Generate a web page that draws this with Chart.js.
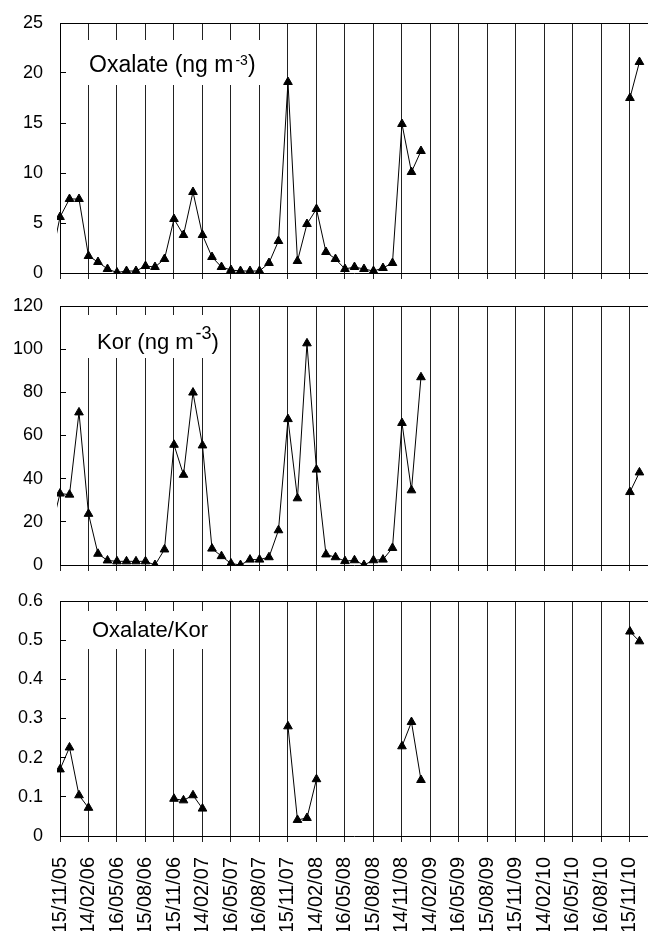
<!DOCTYPE html>
<html>
<head>
<meta charset="utf-8">
<script src="https://cdn.jsdelivr.net/npm/chart.js@4.4.0/dist/chart.umd.min.js"></script>
<style>
  html, body { margin: 0; padding: 0; background: #fff; }
  #wrap { position: relative; width: 648px; height: 931px; overflow: hidden; }
  canvas { position: absolute; left: 0; }
</style>
</head>
<body>
<div id="wrap">
  <canvas id="c1" width="648" height="290" style="top:0"></canvas>
  <canvas id="c2" width="648" height="290" style="top:290px"></canvas>
  <canvas id="c3" width="648" height="351" style="top:580px"></canvas>
</div>
<script>
// quarterly dates on the x axis, one tick every 3 months
const tickLabels = ["15/11/05", "14/02/06", "16/05/06", "15/08/06", "15/11/06", "14/02/07",
    "16/05/07", "16/08/07", "15/11/07", "14/02/08", "16/05/08", "15/08/08", "14/11/08",
    "14/02/09", "16/05/09", "15/08/09", "15/11/09", "14/02/10", "16/05/10", "16/08/10", "15/11/10"];

// monthly samples; the first one (Oct 2005) sits just left of the axis
const firstMonth = -1;

const oxalate = [1.0,
    5.6, 7.4, 7.4, 1.7, 1.1, 0.4, 0.05, 0.2, 0.2, 0.7, 0.6, 1.4,
    5.4, 3.8, 8.1, 3.8, 1.6, 0.6, 0.3, 0.2, 0.2, 0.2, 1.0, 3.2,
    19.1, 1.2, 4.9, 6.4, 2.1, 1.4, 0.4, 0.6, 0.4, 0.2, 0.5, 1.0,
    14.9, 10.1, 12.2, null, null, null, null, null, null, null, null, null,
    null, null, null, null, null, null, null, null, null, null, null, null,
    17.5, 21.1];

const kor = [15,
    33.1, 32.6, 70.7, 23.7, 5.2, 2.1, 1.7, 1.7, 1.7, 1.7, 0, 7.2,
    55.7, 41.8, 79.9, 55.4, 7.6, 4.1, 0.7, 0, 2.5, 2.5, 3.6, 16.1,
    67.6, 30.9, 102.7, 44.2, 4.9, 3.6, 1.8, 2.2, 0, 2.2, 2.5, 7.9,
    65.8, 34.6, 87.0, null, null, null, null, null, null, null, null, null,
    null, null, null, null, null, null, null, null, null, null, null, null,
    33.8, 42.9];

const ratio = [null,
    0.170, 0.226, 0.104, 0.072, null, null, null, null, null, null, null, null,
    0.095, 0.091, 0.104, 0.070, null, null, null, null, null, null, null, null,
    0.280, 0.041, 0.046, 0.145, null, null, null, null, null, null, null, null,
    0.229, 0.291, 0.143, null, null, null, null, null, null, null, null, null,
    null, null, null, null, null, null, null, null, null, null, null, null,
    0.522, 0.497];

const FONT = '"Liberation Sans", Arial, sans-serif';

// top edge of the frame + white text box with the panel name
const panelLabel = {
    id: 'panelLabel',
    beforeDatasetsDraw(chart, args, opts) {
        const ctx = chart.ctx;
        const a = chart.chartArea;
        ctx.save();
        ctx.strokeStyle = '#000';
        ctx.lineWidth = 1;
        ctx.beginPath();
        ctx.moveTo(a.left, Math.round(a.top) + 0.5);
        ctx.lineTo(a.right, Math.round(a.top) + 0.5);
        ctx.stroke();

        ctx.fillStyle = '#fff';
        ctx.fillRect(a.left + opts.box[0], a.top + opts.box[1], opts.box[2], opts.box[3]);

        ctx.fillStyle = '#000';
        ctx.textBaseline = 'alphabetic';
        ctx.textAlign = 'left';
        let x = a.left + opts.textX;
        const y = a.top + opts.baseline;
        ctx.font = opts.size + 'px ' + FONT;
        ctx.fillText(opts.text, x, y);
        if (opts.sup) {
            x += ctx.measureText(opts.text).width + 2;
            ctx.font = opts.supSize + 'px ' + FONT;
            ctx.fillText(opts.sup, x, y - opts.raise);
            x += ctx.measureText(opts.sup).width;
            ctx.font = opts.size + 'px ' + FONT;
            ctx.fillText(')', x, y);
        }
        ctx.restore();
    }
};

function makePanel(id, values, yMax, yStep, showDates, padTop, xAxisH, label) {
    const points = values.map((v, i) => ({ x: i + firstMonth, y: v }));
    return new Chart(document.getElementById(id), {
        type: 'line',
        data: {
            datasets: [{
                data: points,
                borderColor: '#000',
                borderWidth: 1,
                backgroundColor: '#000',
                pointStyle: 'triangle',
                pointRadius: 5,
                pointBackgroundColor: '#000',
                pointBorderColor: '#000',
                pointBorderWidth: 1,
                tension: 0,
                spanGaps: false,
                clip: { left: 3, top: 8, right: 8, bottom: 0 }
            }]
        },
        options: {
            responsive: false,
            animation: false,
            events: [],
            layout: { autoPadding: false, padding: { top: padTop, left: 0, right: 0, bottom: 0 } },
            plugins: {
                legend: { display: false },
                tooltip: { enabled: false },
                panelLabel: label
            },
            scales: {
                x: {
                    type: 'linear',
                    min: 0,
                    max: 61.9,
                    afterBuildTicks: s => { s.ticks = tickLabels.map((t, i) => ({ value: i * 3 })); },
                    afterFit: s => { s.height = xAxisH; s.paddingLeft = 0; s.paddingRight = 0; },
                    ticks: {
                        display: showDates,
                        autoSkip: false,
                        minRotation: 90,
                        maxRotation: 90,
                        padding: 15,
                        color: '#000',
                        font: { family: FONT, size: 20 },
                        callback: v => tickLabels[Math.round(v / 3)]
                    },
                    grid: { color: '#222', lineWidth: 1, tickLength: 6, drawOnChartArea: true },
                    border: { color: '#000', width: 1 }
                },
                y: {
                    min: 0,
                    max: yMax,
                    afterFit: s => { s.width = 60; s.paddingTop = 0; s.paddingBottom = 0; },
                    ticks: {
                        stepSize: yStep,
                        padding: 23,
                        color: '#000',
                        font: { family: FONT, size: 18 }
                    },
                    grid: { drawOnChartArea: false, tickLength: -6, color: '#000' },
                    border: { color: '#000', width: 1 }
                }
            }
        },
        plugins: [panelLabel]
    });
}

makePanel('c1', oxalate, 25, 5, false, 23, 17,
    { box: [10, 17, 198, 45], textX: 29, baseline: 49, size: 23, text: 'Oxalate (ng m',
      sup: '-3', supSize: 14, raise: 7 });
makePanel('c2', kor, 120, 20, false, 16, 15,
    { box: [10, 9, 156, 43], textX: 37, baseline: 43, size: 22, text: 'Kor (ng m',
      sup: '-3', supSize: 18, raise: 10 });
makePanel('c3', ratio, 0.6, 0.1, true, 21, 95,
    { box: [10, 10, 146, 38], textX: 32, baseline: 36, size: 22, text: 'Oxalate/Kor' });
</script>
</body>
</html>
